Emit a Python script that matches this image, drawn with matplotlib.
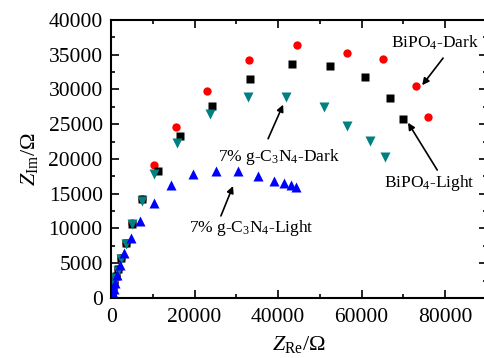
import matplotlib
matplotlib.use("Agg")
import matplotlib.pyplot as plt
from matplotlib.ticker import MultipleLocator

plt.rcParams['font.family'] = ['Liberation Serif', 'DejaVu Serif']
plt.rcParams['mathtext.fontset'] = 'custom'
plt.rcParams['mathtext.rm'] = 'Liberation Serif'
plt.rcParams['mathtext.it'] = 'Liberation Serif:italic'

# BiPO4-Dark (red circles)
dark_bipo4_x = [150, 300, 500, 750, 1100, 1750, 2320, 3520, 4960, 7350, 10370, 15500, 22900, 33100, 44500, 56400, 65100, 73100, 76000]
dark_bipo4_y = [300, 800, 1500, 2300, 3100, 4170, 5760, 7910, 10780, 14240, 19140, 24560, 29780, 34200, 36400, 35300, 34300, 30500, 26000]
# BiPO4-Light (black squares)
light_bipo4_x = [150, 300, 500, 750, 1100, 1700, 2300, 3500, 5000, 7400, 11300, 16500, 24100, 33300, 43400, 52400, 60800, 66700, 70000]
light_bipo4_y = [300, 800, 1500, 2300, 3100, 4100, 5700, 7900, 10700, 14200, 18300, 23350, 27600, 31500, 33600, 33300, 31800, 28700, 25800]
# 7% g-C3N4-Dark (teal down triangles)
dark_gcn_x = [100, 250, 450, 700, 1000, 1650, 2350, 3550, 5050, 7450, 10370, 15900, 23700, 32700, 42000, 51000, 56600, 62000, 65500]
dark_gcn_y = [200, 700, 1300, 2100, 2900, 3900, 5600, 7700, 10600, 14000, 17900, 22350, 26400, 28900, 28960, 27400, 24800, 22600, 20300]
# 7% g-C3N4-Light (blue up triangles)
light_gcn_x = [150, 350, 600, 900, 1370, 2160, 3200, 4800, 6950, 10370, 14400, 19700, 25200, 30500, 35100, 38900, 41500, 43100, 44400]
light_gcn_y = [200, 700, 1300, 2200, 3300, 4750, 6400, 8600, 11100, 13600, 16300, 17800, 18300, 18200, 17550, 16800, 16500, 16300, 16000]

fig = plt.figure(figsize=(4.85, 3.58), dpi=100)
ax = fig.add_axes([0.229, 0.1676, 0.775, 0.777])

ax.plot(dark_bipo4_x, dark_bipo4_y, 'o', color='#ff0000', ms=6, mec='none')
ax.plot(light_bipo4_x, light_bipo4_y, 's', color='black', ms=5.2, mec='none')
ax.plot(dark_gcn_x, dark_gcn_y, 'v', color='#008080', ms=7, mec='none')
ax.plot(light_gcn_x, light_gcn_y, '^', color='#0000ff', ms=7, mec='none')

ax.set_xlim(0, 90000)
ax.set_ylim(0, 40000)
ax.xaxis.set_major_locator(MultipleLocator(20000))
ax.xaxis.set_minor_locator(MultipleLocator(10000))
ax.yaxis.set_major_locator(MultipleLocator(5000))
ax.yaxis.set_minor_locator(MultipleLocator(2500))
ax.tick_params(which='both', direction='in', top=True, right=True, labelsize=15.5, width=1.2)
ax.tick_params(which='major', length=6, pad=6)
ax.tick_params(which='minor', length=3)
ax.tick_params(axis='x', pad=7)
for s in ax.spines.values():
    s.set_linewidth(1.5)

ax.set_xlabel(r'$Z_{\rm Re}$/Ω', fontsize=16, labelpad=5)
ax.set_ylabel(r'$Z_{\rm Im}$/Ω', fontsize=16, labelpad=6)

tfs = 12.5
arrow = dict(arrowstyle='-|>', color='black', lw=1.2, mutation_scale=10, shrinkA=0, shrinkB=0)

ax.text(77600, 36700, r'BiPO$_4$-Dark', fontsize=tfs, ha='center', va='center')
ax.annotate('', xy=(74500, 30600), xytext=(79500, 34500), arrowprops=arrow)

ax.text(76200, 16500, r'BiPO$_4$-Light', fontsize=tfs, ha='center', va='center')
ax.annotate('', xy=(71100, 25200), xytext=(78100, 18400), arrowprops=arrow)

ax.text(40200, 20300, r'7% g-C$_3$N$_4$-Dark', fontsize=tfs, ha='center', va='center')
ax.annotate('', xy=(41200, 27800), xytext=(37600, 22900), arrowprops=arrow)

ax.text(33500, 10100, r'7% g-C$_3$N$_4$-Light', fontsize=tfs, ha='center', va='center')
ax.annotate('', xy=(29200, 16100), xytext=(26300, 11800), arrowprops=arrow)

fig.savefig('out.png', dpi=100)
